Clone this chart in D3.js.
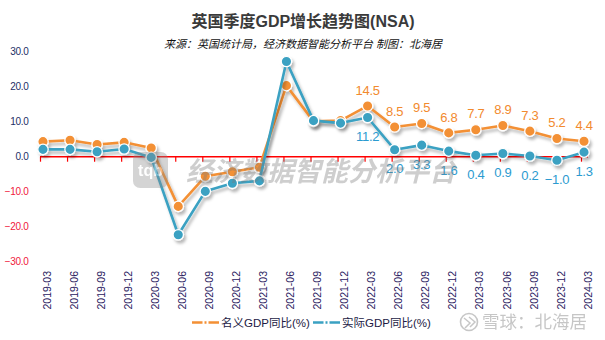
<!DOCTYPE html>
<html><head><meta charset="utf-8">
<script src="https://cdn.jsdelivr.net/npm/d3@7"></script>
<style>
html,body{margin:0;padding:0;background:#fff;}
svg{display:block;}
</style></head>
<body>
<svg id="c" width="605" height="340"></svg>
<script>
const categories = ["2019-03","2019-06","2019-09","2019-12","2020-03","2020-06","2020-09","2020-12","2021-03","2021-06","2021-09","2021-12","2022-03","2022-06","2022-09","2022-12","2023-03","2023-06","2023-09","2023-12","2024-03"];
const nominal = [4.3, 4.7, 3.5, 4.1, 2.5, -14.2, -5.6, -4.3, -3.0, 20.3, 10.1, 10.3, 14.5, 8.5, 9.5, 6.8, 7.7, 8.9, 7.3, 5.2, 4.4];
const real    = [2.1, 2.1, 1.4, 2.2, -0.2, -22.3, -9.9, -7.6, -6.9, 27.2, 10.3, 9.6, 11.2, 2.0, 3.3, 1.6, 0.4, 0.9, 0.2, -1.0, 1.3];
const yTicks = [-30, -20, -10, 0, 10, 20, 30];
const labelFrom = "2022-03";
const seriesNames = ["名义GDP同比(%)", "实际GDP同比(%)"];
const title = "英国季度GDP增长趋势图(NSA)";
const subtitle = "来源：英国统计局，经济数据智能分析平台 制图：北海居";

const ORANGE = "#f39035", BLUE = "#3aa1c2";
const NUMF = "'Liberation Sans',Arial,sans-serif";
const CJKF = "'Liberation Sans',Arial,'Noto Sans CJK SC',sans-serif";

const svg = d3.select("#c");
const defs = svg.append("defs");
const f = defs.append("filter").attr("id","sh").attr("x","-10%").attr("y","-10%").attr("width","130%").attr("height","130%");
f.append("feDropShadow").attr("dx",2).attr("dy",3).attr("stdDeviation",1.6).attr("flood-color","#000").attr("flood-opacity",0.28);

const x = d3.scalePoint().domain(categories).range([43, 584]);
const y = d3.scaleLinear().domain([-30, 30]).range([261.7, 51.7]);

// titles
svg.append("text").attr("x",303).attr("y",27).attr("text-anchor","middle")
  .attr("font-family",CJKF).attr("font-size",16).attr("font-weight","bold").attr("fill","#3a3a3a").text(title);
svg.append("text").attr("x",303).attr("y",48).attr("text-anchor","middle")
  .attr("font-family",CJKF).attr("font-size",11).attr("font-style","italic").attr("fill","#111").text(subtitle);

// y axis labels
svg.append("g").selectAll("text").data(yTicks).join("text")
  .attr("x",28.5).attr("y",d=>y(d)).attr("dy","0.36em").attr("text-anchor","end")
  .attr("font-family",NUMF).attr("font-size",10).attr("letter-spacing","-0.3")
  .attr("fill",d=>d<0?"#f0203c":"#1d2f66").text(d=>d3.format(".1f")(d));

// zero axis
const y0 = y(0);
svg.append("line").attr("x1",40).attr("x2",588).attr("y1",y0).attr("y2",y0).attr("stroke","#ff0000").attr("stroke-width",1.4);
svg.append("g").selectAll("line").data(categories).join("line")
  .attr("x1",d=>x(d)-2.5).attr("x2",d=>x(d)-2.5).attr("y1",y0).attr("y2",y0+5)
  .attr("stroke","#ff0000").attr("stroke-width",1.2);

// x labels
svg.append("g").selectAll("text").data(categories).join("text")
  .attr("transform",d=>`translate(${x(d)+4},271) rotate(-90)`)
  .attr("dy","0.35em").attr("text-anchor","end")
  .attr("font-family",NUMF).attr("font-size",10.5).attr("fill","#2a2060").text(d=>d);

// series
const series = [
  {name: seriesNames[0], values: nominal, color: ORANGE, labelColor:"#f28a2e", above:true},
  {name: seriesNames[1], values: real, color: BLUE, labelColor:"#2b9bd0", above:false}
];
const line = d3.line().x(d=>x(d.c)).y(d=>y(d.v));
series.forEach(s=>{
  const pts = categories.map((c,i)=>({c, v:s.values[i]}));
  const g = svg.append("g").attr("filter","url(#sh)");
  g.append("path").datum(pts).attr("d",line).attr("fill","none").attr("stroke",s.color).attr("stroke-width",2.6).attr("stroke-linejoin","round");
  g.selectAll("circle").data(pts).join("circle").attr("cx",d=>x(d.c)).attr("cy",d=>y(d.v)).attr("r",5.2)
    .attr("fill",s.color).attr("stroke","#fff").attr("stroke-width",1.3);
  s.pts = pts;
});
const li = categories.indexOf(labelFrom);
series.forEach(s=>{
  svg.append("g").selectAll("text").data(s.pts.slice(li)).join("text")
    .attr("x",d=>x(d.c)).attr("y",d=>s.above? y(d.v)-16 : y(d.v)+19).attr("dy","0.36em")
    .attr("text-anchor","middle").attr("font-family",NUMF).attr("font-size",13).attr("letter-spacing","-0.3")
    .attr("fill",s.labelColor).text(d=>d3.format(".1f")(d.v));
});

// center watermark
const wm = svg.append("g").attr("opacity",0.36);
wm.append("rect").attr("x",133).attr("y",152).attr("width",35).attr("height",36).attr("rx",7).attr("fill","#8a8a8a");
wm.append("text").attr("x",150.5).attr("y",176).attr("text-anchor","middle").attr("font-family",NUMF)
  .attr("font-size",16).attr("font-weight","bold").attr("fill","#fff").text("tqb");
wm.append("text").attr("x",186).attr("y",181).attr("font-family",CJKF).attr("font-size",27)
  .attr("font-weight","bold").attr("font-style","italic").attr("fill","#7a7a7a").text("经济数据智能分析平台");

// legend
const leg = [{x:192, tx:221}, {x:313, tx:342}];
series.forEach((s,i)=>{
  const L = leg[i];
  svg.append("line").attr("x1",L.x).attr("x2",L.x+27).attr("y1",322.5).attr("y2",322.5)
    .attr("stroke",s.color).attr("stroke-width",2.4).attr("stroke-dasharray","10.5,2,2,2");
  svg.append("text").attr("x",L.tx).attr("y",322.5).attr("dy","0.36em").attr("font-family",CJKF)
    .attr("font-size",11.5).attr("fill","#221a44").text(s.name);
});

// bottom-right watermark
const bw = svg.append("g").attr("opacity",0.55);
bw.append("circle").attr("cx",469).attr("cy",322).attr("r",8.5).attr("fill","none").attr("stroke","#999").attr("stroke-width",1.6);
bw.append("path").attr("d","M464,318 L470,323 L465,328 M469,317 L475,322 L470,327").attr("fill","none").attr("stroke","#999").attr("stroke-width",1.5);
bw.append("text").attr("x",482).attr("y",322).attr("dy","0.36em").attr("font-family","'Noto Sans CJK SC',sans-serif")
  .attr("font-size",17.5).attr("fill","#999").text("雪球：北海居");
</script>
</body></html>
